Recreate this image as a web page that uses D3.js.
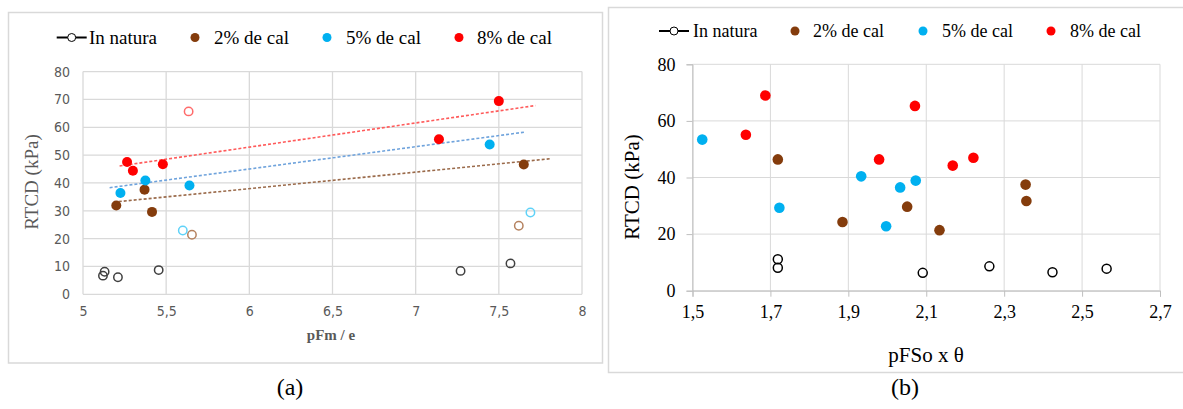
<!DOCTYPE html>
<html>
<head>
<meta charset="utf-8">
<script src="https://cdn.jsdelivr.net/npm/d3@7"></script>
<style>
body { margin: 0; background: #fff; }
</style>
</head>
<body>
<script>

// ---- data ----
var seriesNames = ["In natura", "2% de cal", "5% de cal", "8% de cal"];
var seriesColors = ["#000000", "#843c0c", "#00b0f0", "#ff0000"];

// chart (a): x = pFm / e
var aInNatura = [[5.12, 6.7], [5.13, 8.1], [5.21, 6.1], [5.455, 8.7], [7.27, 8.4], [7.57, 11.1]];
var aCal2 = [[5.20, 31.9], [5.37, 37.6], [5.415, 29.6], [7.65, 46.6]];
var aCal5 = [[5.225, 36.4], [5.375, 40.9], [5.64, 39.1], [7.445, 53.8]];
var aCal8 = [[5.265, 47.5], [5.30, 44.4], [5.48, 46.7], [7.14, 55.7], [7.50, 69.4]];
// points left out of the fit (open)
var aCal2Out = [[5.655, 21.4], [7.62, 24.6]];
var aCal5Out = [[5.60, 22.9], [7.69, 29.4]];
var aCal8Out = [[5.635, 65.7]];
// trend lines (start, end)
var aTrend2 = [[5.215, 33.3], [7.81, 48.7]];
var aTrend5 = [[5.16, 38.3], [7.66, 58.3]];
var aTrend8 = [[5.22, 46.1], [7.72, 67.8]];
var aXTicks = [5, 5.5, 6, 6.5, 7, 7.5, 8];
var aYTicks = [0, 10, 20, 30, 40, 50, 60, 70, 80];

// chart (b): x = pFSo x theta
var bInNatura = [[1.719, 11.1], [1.719, 8.1], [2.091, 6.3], [2.262, 8.6], [2.424, 6.5], [2.563, 7.8]];
var bCal2 = [[1.719, 46.4], [1.885, 24.3], [2.051, 29.7], [2.134, 21.4], [2.355, 37.5], [2.357, 31.7]];
var bCal5 = [[1.525, 53.4], [1.723, 29.3], [1.933, 40.4], [1.997, 22.8], [2.033, 36.5], [2.073, 38.9]];
var bCal8 = [[1.687, 69.0], [1.637, 55.1], [1.979, 46.4], [2.071, 65.3], [2.168, 44.2], [2.221, 47.0]];
var bXTicks = [1.5, 1.7, 1.9, 2.1, 2.3, 2.5, 2.7];
var bYTicks = [0, 20, 40, 60, 80];

var comma = function(v){ return String(+v.toFixed(1)).replace(".", ","); };

var width = 1183, height = 409;
var grid = "#d9d9d9";
var serif = "'Liberation Serif', 'Times New Roman', serif";

var svg = d3.select("body").append("svg")
	.attr("width", width)
	.attr("height", height);

// panel frames
svg.append("rect").attr("x", 8.5).attr("y", 12.5).attr("width", 594).attr("height", 350.5)
	.attr("fill", "none").attr("stroke", grid).attr("stroke-width", 1.5);
svg.append("rect").attr("x", 608.5).attr("y", 7.5).attr("width", 590).attr("height", 365)
	.attr("fill", "none").attr("stroke", grid).attr("stroke-width", 1.5);

var legend = function(xs, tx, y, size){
	var g = svg.append("g");
	g.append("line").attr("x1", xs[0] - 15).attr("x2", xs[0] + 15).attr("y1", y).attr("y2", y)
		.attr("stroke", "#000").attr("stroke-width", 2);
	seriesNames.forEach(function(name, i){
		if (i === 0) {
			g.append("circle").attr("cx", xs[0]).attr("cy", y).attr("r", 4)
				.attr("fill", "#fff").attr("stroke", "#000").attr("stroke-width", 1);
		} else {
			g.append("circle").attr("cx", xs[i]).attr("cy", y).attr("r", 4.5)
				.attr("fill", seriesColors[i]);
		}
		g.append("text").attr("x", tx[i]).attr("y", y).attr("dy", "0.35em")
			.style("font-family", serif).style("font-size", size + "px")
			.attr("fill", "#000").text(name);
	});
};

// ---------- chart (a) ----------
var xA = d3.scaleLinear().domain([5, 8]).range([83, 582]);
var yA = d3.scaleLinear().domain([0, 80]).range([294.3, 71.6]);
var ga = svg.append("g");

ga.selectAll("line.vg").data(aXTicks).enter().append("line")
	.attr("x1", function(d){ return xA(d); }).attr("x2", function(d){ return xA(d); })
	.attr("y1", yA(0)).attr("y2", yA(80))
	.attr("stroke", grid).attr("stroke-width", 1.3);
ga.selectAll("line.hg").data(aYTicks).enter().append("line")
	.attr("x1", xA(5)).attr("x2", xA(8))
	.attr("y1", function(d){ return yA(d); }).attr("y2", function(d){ return yA(d); })
	.attr("stroke", grid).attr("stroke-width", 1.3);

var axA = ga.append("g").attr("transform", "translate(0," + yA(0) + ")")
	.call(d3.axisBottom(xA).tickValues(aXTicks).tickFormat(comma).tickSize(0).tickPadding(12));
var ayA = ga.append("g").attr("transform", "translate(" + xA(5) + ",0)")
	.call(d3.axisLeft(yA).tickValues(aYTicks).tickSize(0).tickPadding(13));
[axA, ayA].forEach(function(a){
	a.select(".domain").remove();
	a.selectAll("text").attr("fill", "#595959")
		.attr("font-family", "'Liberation Sans Narrow', 'DejaVu Sans Condensed', 'Liberation Sans', sans-serif")
		.attr("font-size", 14);
});

ga.append("text").attr("transform", "translate(31,182) rotate(-90)")
	.attr("text-anchor", "middle").attr("dy", "0.35em")
	.style("font-family", serif).style("font-size", "19px")
	.attr("fill", "#595959").text("RTCD (kPa)");
ga.append("text").attr("x", 331).attr("y", 340).attr("text-anchor", "middle")
	.style("font-family", serif).style("font-size", "15px")
	.attr("font-weight", "bold").attr("fill", "#595959").text("pFm / e");

var trendColors = ["#9a6a4a", "#6fa3dc", "#ff5a5a"];
[aTrend2, aTrend5, aTrend8].forEach(function(t, i){
	ga.append("line")
		.attr("x1", xA(t[0][0])).attr("y1", yA(t[0][1]))
		.attr("x2", xA(t[1][0])).attr("y2", yA(t[1][1]))
		.attr("stroke", trendColors[i]).attr("stroke-width", 1.6)
		.attr("stroke-dasharray", "3,2");
});

var openA = [[aInNatura, "#404040"], [aCal2Out, "#b5825f"], [aCal5Out, "#5fd2f8"], [aCal8Out, "#ff6b6b"]];
openA.forEach(function(s){
	ga.append("g").selectAll("circle").data(s[0]).enter().append("circle")
		.attr("cx", function(d){ return xA(d[0]); })
		.attr("cy", function(d){ return yA(d[1]); })
		.attr("r", 4.2).attr("fill", "none")
		.attr("stroke", s[1]).attr("stroke-width", 1.5);
});
[aCal2, aCal5, aCal8].forEach(function(s, i){
	ga.append("g").selectAll("circle").data(s).enter().append("circle")
		.attr("cx", function(d){ return xA(d[0]); })
		.attr("cy", function(d){ return yA(d[1]); })
		.attr("r", 5).attr("fill", seriesColors[i + 1]);
});

legend([71.7, 195, 327, 459], [89, 214, 346, 477], 37.5, 19);

// ---------- chart (b) ----------
var xB = d3.scaleLinear().domain([1.5, 2.7]).range([692.5, 1160]);
var yB = d3.scaleLinear().domain([0, 80]).range([290.7, 64.3]);
var gb = svg.append("g");

gb.selectAll("line.vg").data(bXTicks).enter().append("line")
	.attr("x1", function(d){ return xB(d); }).attr("x2", function(d){ return xB(d); })
	.attr("y1", yB(0)).attr("y2", yB(80))
	.attr("stroke", grid).attr("stroke-width", 1);
gb.selectAll("line.hg").data(bYTicks).enter().append("line")
	.attr("x1", xB(1.5)).attr("x2", xB(2.7))
	.attr("y1", function(d){ return yB(d); }).attr("y2", function(d){ return yB(d); })
	.attr("stroke", grid).attr("stroke-width", 1);

var axB = gb.append("g").attr("transform", "translate(0," + yB(0) + ")")
	.call(d3.axisBottom(xB).tickValues(bXTicks).tickFormat(comma).tickSizeOuter(0).tickSize(6).tickPadding(9));
var ayB = gb.append("g").attr("transform", "translate(" + xB(1.5) + ",0)")
	.call(d3.axisLeft(yB).tickValues(bYTicks).tickSizeOuter(0).tickSize(6).tickPadding(11));
[axB, ayB].forEach(function(a){
	a.select(".domain").attr("stroke", "#bfbfbf");
	a.selectAll(".tick line").attr("stroke", "#bfbfbf");
	a.selectAll("text").attr("fill", "#000")
		.style("font-family", serif).style("font-size", "18px");
});

gb.append("text").attr("transform", "translate(632,187) rotate(-90)")
	.attr("text-anchor", "middle").attr("dy", "0.35em")
	.style("font-family", serif).style("font-size", "21px")
	.attr("fill", "#000").text("RTCD (kPa)");
gb.append("text").attr("x", 926).attr("y", 362).attr("text-anchor", "middle")
	.style("font-family", serif).style("font-size", "21px")
	.attr("fill", "#000").text("pFSo x θ");

gb.append("g").selectAll("circle").data(bInNatura).enter().append("circle")
	.attr("cx", function(d){ return xB(d[0]); })
	.attr("cy", function(d){ return yB(d[1]); })
	.attr("r", 4.5).attr("fill", "none")
	.attr("stroke", "#000").attr("stroke-width", 1.5);
[bCal2, bCal5, bCal8].forEach(function(s, i){
	gb.append("g").selectAll("circle").data(s).enter().append("circle")
		.attr("cx", function(d){ return xB(d[0]); })
		.attr("cy", function(d){ return yB(d[1]); })
		.attr("r", 5.3).attr("fill", seriesColors[i + 1]);
});

legend([674, 795, 923, 1051], [693, 813, 942, 1070], 31, 18);

// ---------- captions ----------
svg.append("text").attr("x", 290).attr("y", 395).attr("text-anchor", "middle")
	.style("font-family", serif).style("font-size", "24px").text("(a)");
svg.append("text").attr("x", 905).attr("y", 395).attr("text-anchor", "middle")
	.style("font-family", serif).style("font-size", "24px").text("(b)");

</script>
</body>
</html>
